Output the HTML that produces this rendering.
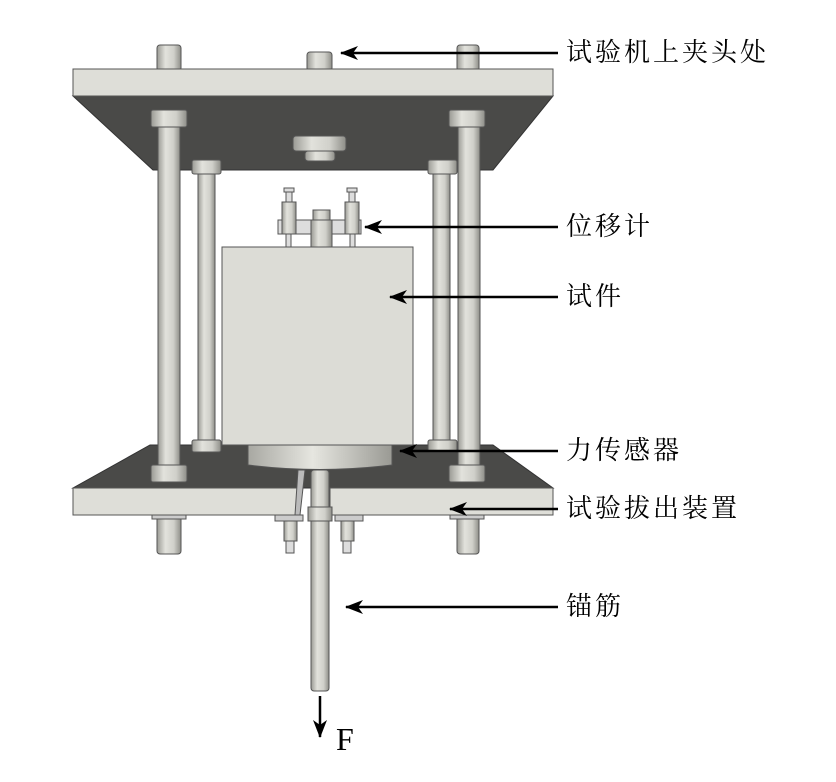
<!DOCTYPE html>
<html><head><meta charset="utf-8"><style>
html,body{margin:0;padding:0;background:#fff;}
svg{display:block}
text{font-family:"Liberation Serif","Noto Serif CJK SC","Noto Sans CJK SC",serif;fill:#000}
</style></head><body>
<svg width="836" height="782" viewBox="0 0 836 782" xmlns="http://www.w3.org/2000/svg">
<defs>
<linearGradient id="rod" x1="0" x2="1" y1="0" y2="0">
<stop offset="0" stop-color="#9a9a94"/><stop offset="0.35" stop-color="#e2e2dc"/><stop offset="0.7" stop-color="#d0d0ca"/><stop offset="1" stop-color="#8e8e88"/></linearGradient>
<linearGradient id="cell" x1="0" x2="1" y1="0" y2="0">
<stop offset="0" stop-color="#a8a8a2"/><stop offset="0.45" stop-color="#e6e6e0"/><stop offset="1" stop-color="#9a9a94"/></linearGradient>
<marker id="ah" viewBox="0 0 18 14" refX="17" refY="7" markerWidth="18" markerHeight="14" markerUnits="userSpaceOnUse" orient="auto">
<path d="M0,0 L18,7 L0,14 L5,7 Z" fill="#000"/></marker>
</defs>
<g stroke="#555" stroke-width="1">
<rect x="157" y="45" width="24" height="26" rx="3" fill="url(#rod)"/>
<rect x="307" y="52" width="25" height="19" rx="3" fill="url(#rod)"/>
<rect x="457" y="45" width="22" height="26" rx="3" fill="url(#rod)"/>
<polygon points="73,96 553,96 493,170 153,170" fill="#4a4a48" stroke="#333"/>
<rect x="73" y="69" width="480" height="27" fill="#deded8"/>
<rect x="293" y="136" width="53" height="15" rx="3" fill="url(#rod)"/>
<rect x="305" y="151" width="30" height="10" rx="3" fill="url(#rod)"/>
<rect x="198" y="170" width="17" height="275" fill="url(#rod)"/>
<rect x="433" y="170" width="17" height="275" fill="url(#rod)"/>
<rect x="192" y="160" width="29" height="14" rx="2" fill="url(#rod)"/>
<rect x="428" y="160" width="29" height="14" rx="2" fill="url(#rod)"/>
<polygon points="150,445 493,445 553,488 73,488" fill="#4a4a48" stroke="#333"/>
<rect x="73" y="488" width="225" height="27" fill="#deded8"/>
<rect x="330" y="488" width="223" height="27" fill="#deded8"/>
<polygon points="298,470 305,470 300,515 295,515" fill="#bbb"/>
<rect x="192" y="440" width="29" height="12" rx="2" fill="url(#rod)"/>
<rect x="428" y="440" width="29" height="12" rx="2" fill="url(#rod)"/>
<rect x="158" y="120" width="22" height="350" fill="url(#rod)"/>
<rect x="458" y="120" width="22" height="350" fill="url(#rod)"/>
<rect x="151" y="110" width="36" height="17" rx="2" fill="url(#rod)"/>
<rect x="449" y="110" width="36" height="17" rx="2" fill="url(#rod)"/>
<rect x="151" y="465" width="36" height="17" rx="2" fill="url(#rod)"/>
<rect x="449" y="465" width="36" height="17" rx="2" fill="url(#rod)"/>
<rect x="157" y="515" width="24" height="39" rx="3" fill="url(#rod)"/>
<rect x="457" y="515" width="22" height="39" rx="3" fill="url(#rod)"/>
<rect x="152" y="515" width="34" height="4" fill="#ccc"/>
<rect x="450" y="515" width="34" height="4" fill="#ccc"/>
<rect x="275" y="515" width="28" height="6" fill="#ccc"/>
<rect x="335" y="515" width="28" height="6" fill="#ccc"/>
<rect x="284" y="521" width="13" height="20" fill="url(#rod)"/>
<rect x="341" y="521" width="13" height="20" fill="url(#rod)"/>
<rect x="286" y="541" width="8" height="12" fill="#ddd"/>
<rect x="343" y="541" width="8" height="12" fill="#ddd"/>
<rect x="222" y="247" width="191" height="198" fill="#dcdcd6"/>
<path d="M248,445 L392,445 L392,465 Q320,474 248,465 Z" fill="url(#cell)"/>
<rect x="311" y="470" width="18" height="221" rx="3" fill="url(#rod)"/>
<rect x="308" y="507" width="24" height="14" fill="url(#rod)"/>
<rect x="278" y="220" width="83" height="14" fill="#ddd"/>
<rect x="313" y="210" width="17" height="10" fill="url(#rod)"/>
<rect x="311" y="220" width="21" height="27" fill="url(#rod)"/>
<rect x="282" y="202" width="14" height="32" fill="url(#rod)"/>
<rect x="345" y="202" width="14" height="32" fill="url(#rod)"/>
<rect x="286" y="192" width="6" height="10" fill="#ddd"/>
<rect x="349" y="192" width="6" height="10" fill="#ddd"/>
<rect x="284" y="188" width="10" height="4" fill="#ddd"/>
<rect x="347" y="188" width="10" height="4" fill="#ddd"/>
<rect x="286" y="234" width="5" height="13" fill="#ddd"/>
<rect x="350" y="234" width="5" height="13" fill="#ddd"/>
</g>
<g stroke="#000" stroke-width="2.5" fill="none">
<line x1="558" y1="53" x2="341" y2="53" marker-end="url(#ah)"/>
<line x1="558" y1="227" x2="365" y2="227" marker-end="url(#ah)"/>
<line x1="558" y1="297" x2="390" y2="297" marker-end="url(#ah)"/>
<line x1="558" y1="451" x2="400" y2="451" marker-end="url(#ah)"/>
<line x1="558" y1="509" x2="450" y2="509" marker-end="url(#ah)"/>
<line x1="558" y1="607" x2="346" y2="607" marker-end="url(#ah)"/>
<line x1="320" y1="696" x2="320" y2="737" marker-end="url(#ah)"/>
</g>
<g font-size="26" letter-spacing="3">
<text x="566" y="61">试验机上夹头处</text>
<text x="566" y="235">位移计</text>
<text x="566" y="305">试件</text>
<text x="566" y="459">力传感器</text>
<text x="566" y="517">试验拔出装置</text>
<text x="566" y="615">锚筋</text>
</g>
<text x="336" y="750" font-size="32">F</text>
</svg>
</body></html>
